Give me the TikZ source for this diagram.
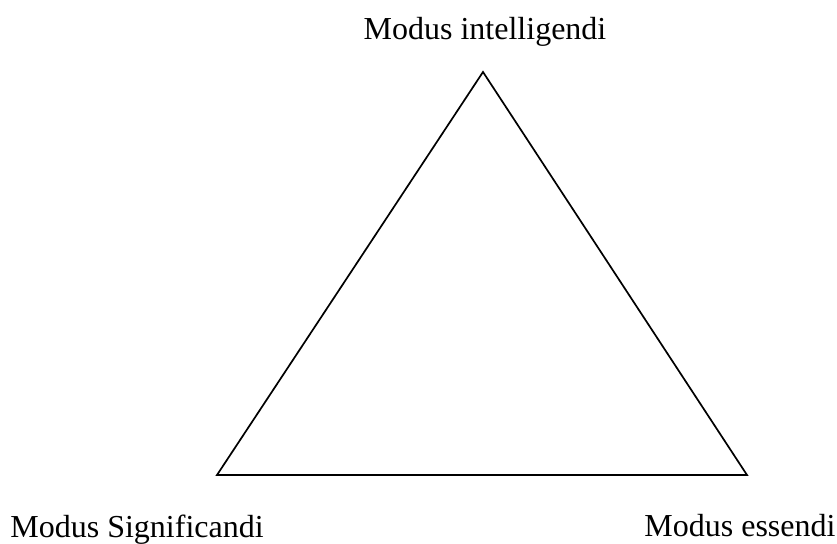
\documentclass[tikz,border=0pt]{standalone}
\usepackage{fontspec}
\setmainfont{Liberation Serif}
\usepackage[svgnames]{xcolor}
\tikzstyle{none}=[inner sep=0pt]
\tikzstyle{label}=[inner sep=0pt, font=\fontsize{16}{19}\selectfont]
\tikzstyle{simple}=[-,draw=Black,line width=0.85pt]
\pgfdeclarelayer{edgelayer}
\pgfdeclarelayer{nodelayer}
\pgfsetlayers{edgelayer,nodelayer,main}

\begin{document}
\begin{tikzpicture}[x=0.5pt, y=-0.5pt]
	\useasboundingbox (0, 0) rectangle (837, 544);
	\begin{pgfonlayer}{nodelayer}
		\node [style=none] (0) at (483, 72) {};
		\node [style=none] (1) at (217, 475) {};
		\node [style=none] (2) at (747, 475) {};
		\node [style=label, anchor=base] (3) at (485, 40) {Modus intelligendi};
		\node [style=label, anchor=base west] (4) at (10, 538) {Modus Significandi};
		\node [style=label, anchor=base west] (5) at (644, 537) {Modus essendi};
	\end{pgfonlayer}
	\begin{pgfonlayer}{edgelayer}
		\draw [style=simple] (0.center) to (2.center) to (1.center) to cycle;
	\end{pgfonlayer}
\end{tikzpicture}
\end{document}
